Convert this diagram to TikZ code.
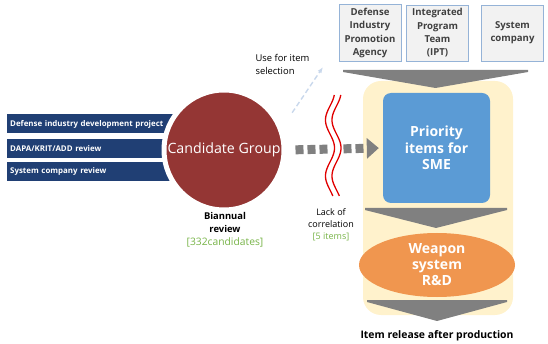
\documentclass[tikz,border=0pt]{standalone}
\usepackage{fontspec}
\setmainfont{Open Sans}
\usetikzlibrary{arrows.meta,positioning,shapes.geometric}
\definecolor{barblue}{HTML}{203F74}
\definecolor{candred}{HTML}{943634}
\definecolor{prioblue}{HTML}{5B9BD5}
\definecolor{rndorange}{HTML}{F0964F}
\definecolor{bgyellow}{HTML}{FFF2CC}
\definecolor{chevgrey}{HTML}{808080}
\definecolor{boxline}{HTML}{95B3D7}
\definecolor{boxfill}{HTML}{F2F2F2}
\definecolor{txtgreen}{HTML}{77B347}
\definecolor{hintblue}{HTML}{C9D8EC}
\definecolor{wavered}{HTML}{E00000}

\begin{document}
\begin{tikzpicture}[
  x=1pt,y=-1pt,
  bar/.style={fill=barblue,text=white,anchor=west,minimum height=19pt,
              text width=190pt,inner xsep=3pt,align=left,
              font=\fontsize{7.9}{9}\selectfont\bfseries},
  cand/.style={circle,fill=candred,draw=white,line width=5pt,
               minimum size=120pt,inner sep=0pt,text=white,
               font=\fontsize{14.2}{16}\selectfont},
  org/.style={draw=boxline,fill=boxfill,line width=0.8pt,minimum width=62pt,
              minimum height=56pt,align=center,text=black!75,
              font=\fontsize{9.6}{13.3}\selectfont\bfseries},
  prio/.style={fill=prioblue,rounded corners=8pt,minimum width=107pt,
               minimum height=110pt,align=center,text=white,
               font=\fontsize{14}{16.7}\selectfont\bfseries},
  rnd/.style={ellipse,fill=rndorange,minimum width=156pt,minimum height=64pt,
              align=center,inner sep=0pt,text=white,
              font=\fontsize{14}{16}\selectfont\bfseries},
  lbl/.style={align=center,font=\fontsize{9.4}{12.5}\selectfont},
  chev/.style={fill=chevgrey},
  wave/.style={wavered,line width=1.3pt},
  greyflow/.style={chevgrey,line width=9pt,dash pattern=on 8pt off 4pt,
                   -{Triangle[length=12pt,width=20pt]}},
  hint/.style={hintblue,line width=1.4pt,dash pattern=on 5pt off 3pt,
               -{Latex[length=6pt]}}
]
\useasboundingbox (0,0) rectangle (548,344);

% input bars, left
\node[bar] (devproj) at (7,124) {Defense industry development project};
\node[bar] (dapa) at (7,148.5) {DAPA/KRIT/ADD review};
\node[bar] (syscomp) at (7,171.5) {System company review};

% candidate group
\node[cand] (cand) at (224,150) {Candidate Group};
\node[lbl,font=\fontsize{9.4}{13}\selectfont\bfseries] (biann) at (225,230)
  {Biannual\\review\\\textcolor{txtgreen}{\mdseries\fontsize{10.3}{13}\selectfont[332candidates]}};

% hint to the top boxes
\coordinate (hintend) at (323,67);
\draw[hint] (cand.30) ++(14,-6) -- (hintend);
\node[lbl,align=left,anchor=west] (usefor) at (252,64.5) {Use for item\\selection};

% top organisations
\node[org] (dipa) at (370,33) {Defense\\Industry\\Promotion\\Agency};
\node[org] (ipt) at (437.5,33) {Integrated\\Program\\Team\\(IPT)};
\node[org] (sysco) at (512.5,33) {System\\company};

% yellow frame and chevrons
\fill[bgyellow,rounded corners=18pt] (363,81) rectangle (513,315);
\fill[chev] (343,70) -- (528,70) -- (528,72) -- (435.5,88) -- (343,72) -- cycle;

\node[prio] (prio) at (436.5,148) {Priority\\items for\\SME};
\fill[chev] (365,208) -- (507,208) -- (507,210) -- (436,228) -- (365,210) -- cycle;
\node[rnd] (rd) at (437,265) {Weapon\\system\\R\&D};
\fill[chev] (367,300) -- (507,300) -- (507,302) -- (437,321) -- (367,302) -- cycle;
\node[lbl,font=\fontsize{10.4}{11}\selectfont\bfseries] (release) at (437,336)
  {Item release after production};

% candidate group to priority items
\draw[greyflow,shorten <=9pt,shorten >=4pt] (cand.east) -- (prio.west);
\fill[white] (328,140) rectangle (343,156);
\draw[wave] plot[domain=95:196,samples=80,variable=\t] ({330-4.5*sin(6.43*(\t-106))},\t);
\draw[wave] plot[domain=95:196,samples=80,variable=\t] ({336.5-4.5*sin(6.43*(\t-106))},\t);
\node[lbl,font=\fontsize{9}{12}\selectfont] (lack) at (331,225)
  {Lack of\\correlation\\\textcolor{txtgreen}{[5 items]}};
\end{tikzpicture}
\end{document}
